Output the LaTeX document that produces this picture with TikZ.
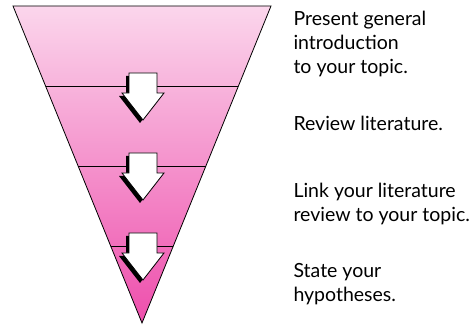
\documentclass[tikz,border=0pt]{standalone}
\usepackage{fontspec}
\setmainfont{Lato}
\usepackage{tikz}
\usetikzlibrary{positioning,calc}

\definecolor{funneltop}{RGB}{251,214,236}
\definecolor{funnelbot}{RGB}{238,78,172}

\tikzset{
  steptext/.style={anchor=base west, align=left, font=\fontsize{19.5}{24}\selectfont},
  downarrow/.style={fill=white, draw=black, line width=0.8pt, line join=miter},
  downshadow/.style={fill=black}
}

\begin{document}
\begin{tikzpicture}[x=1pt, y=-1pt]
  \useasboundingbox (0,0) rectangle (472,328);
  \coordinate (tl) at (13,6);
  \coordinate (tr) at (271,6);
  \coordinate (apex) at (142,323);
  % funnel
  \shade[top color=funneltop, bottom color=funnelbot] (tl) -- (tr) -- (apex) -- cycle;
  \foreach \f in {0.2524,0.5047,0.757}
    \draw[line width=0.7pt] ($(tl)!\f!(apex)$) -- ($(tr)!\f!(apex)$);
  \draw[line width=0.8pt, line join=miter] (tl) -- (tr) -- (apex) -- cycle;
  % arrows
  \foreach \t in {73,153,233} {
    \fill[downshadow, shift={(140,\t+3)}]
      (-14,0) -- (14,0) -- (14,20) -- (21,20) -- (0,47) -- (-21,20) -- (-14,20) -- cycle;
    \draw[downarrow, shift={(143,\t)}]
      (-14,0) -- (14,0) -- (14,20) -- (21,20) -- (0,47) -- (-21,20) -- (-14,20) -- cycle;
  }
  % texts (base = last line)
  \node[steptext] (intro) at (290,74) {Present general\\introduction\\to your topic.};
  \node[steptext] (review) at (290,131) {Review literature.};
  \node[steptext] (link) at (290,222) {Link your literature\\review to your topic.};
  \node[steptext] (hyp) at (290,302) {State your\\hypotheses.};
\end{tikzpicture}
\end{document}
